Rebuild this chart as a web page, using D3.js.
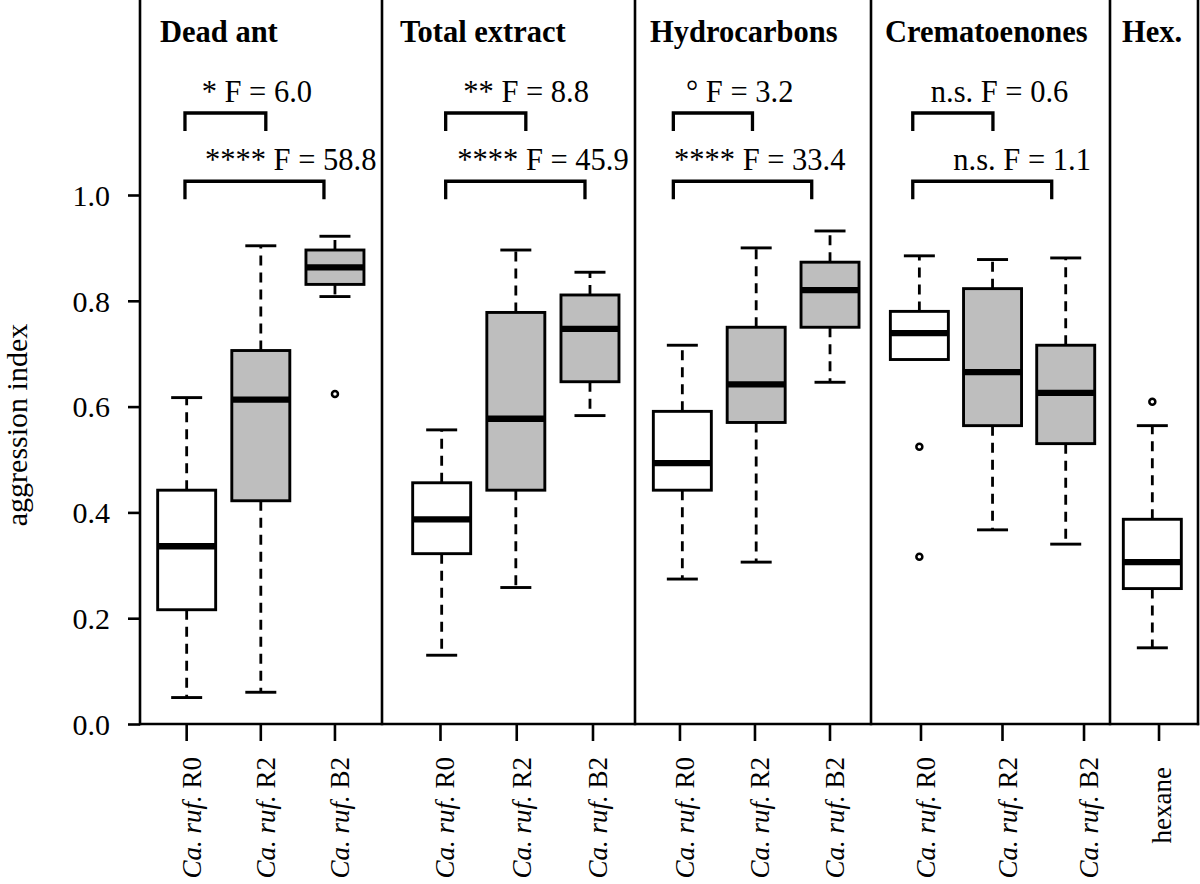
<!DOCTYPE html>
<html><head><meta charset="utf-8">
<script src="https://cdnjs.cloudflare.com/ajax/libs/d3/7.8.5/d3.min.js"></script>
<style>
body{margin:0;background:#fff}
svg{display:block}
text{font-family:"Liberation Serif","Times New Roman",Times,serif;fill:#000}
</style>
</head><body>
<svg id="chart" width="1200" height="884"></svg>
<script>
// ---------------- DATA ----------------
const panelTitles = ["Dead ant", "Total extract", "Hydrocarbons", "Crematoenones", "Hex."];
const boxPanel    = [0, 0, 0, 1, 1, 1, 2, 2, 2, 3, 3, 3, 4];
const boxGroup    = ["R0", "R2", "B2", "R0", "R2", "B2", "R0", "R2", "B2", "R0", "R2", "B2", "hexane"];
const whiskerLow  = [0.050, 0.060, 0.808, 0.130, 0.258, 0.583, 0.274, 0.306, 0.646, 0.689, 0.367, 0.340, 0.144];
const quart1      = [0.216, 0.422, 0.831, 0.322, 0.442, 0.647, 0.442, 0.570, 0.750, 0.689, 0.564, 0.530, 0.256];
const medians     = [0.336, 0.613, 0.863, 0.387, 0.577, 0.747, 0.493, 0.642, 0.820, 0.739, 0.665, 0.626, 0.306];
const quart3      = [0.442, 0.706, 0.896, 0.456, 0.778, 0.811, 0.591, 0.750, 0.873, 0.780, 0.823, 0.716, 0.387];
const whiskerHigh = [0.617, 0.904, 0.922, 0.556, 0.896, 0.854, 0.716, 0.900, 0.932, 0.885, 0.878, 0.881, 0.564];
const outliers    = [[], [], [0.624], [], [], [], [], [], [], [0.524, 0.316], [], [], [0.609]];
const yTicks      = [0, 0.2, 0.4, 0.6, 0.8, 1.0];

const compPanel  = [0, 0, 1, 1, 2, 2, 3, 3];
const compFrom   = ["R0", "R0", "R0", "R0", "R0", "R0", "R0", "R0"];
const compTo     = ["R2", "B2", "R2", "B2", "R2", "B2", "R2", "B2"];
const compSignif = ["*", "****", "**", "****", "\u00B0", "****", "n.s.", "n.s."];
const compF      = ["6.0", "58.8", "8.8", "45.9", "3.2", "33.4", "0.6", "1.1"];

// ---------------- LAYOUT / STYLE ----------------
const panelEdges = [140, 382, 635, 871, 1110, 1198];
const boxPad   = [0.632, 0.706, 0.598, 0.633, 1];
const boxAlign = [0.498, 0.570, 0.536, 0.522, 0.481];
const tickPad   = [0.632, 0.659, 0.573, 0.466, 1];
const tickAlign = [0.498, 0.582, 0.523, 0.658, 0.557];
const titleDx = [20, 18, 15, 14, 12];
const bracketAdj = [[-1.7, 5], [-1.7, -11], [4, 10], [4, -5], [-9, -3.7], [-9, -18.3], [-6.6, 0.4], [-6.6, -14]];
const textDx = [16.7, 20, 17.6, 11.6, 12.7, 0.7, 18, 40.6];
const levelValue = {R2: 1.155, B2: 1.026};
const boxW = 58, capW = 31, legLen = 18;

const svg = d3.select("#chart");
const y = d3.scaleLinear().domain([0, 1]).range([724, 195]);
const fill = d3.scaleOrdinal().domain(["R0", "R2", "B2", "hexane"])
  .range(["#ffffff", "#bebebe", "#bebebe", "#ffffff"]);

const groupsOf = i => boxGroup.filter((g, k) => boxPanel[k] === i);
const boxX = panelTitles.map((t, i) => d3.scalePoint().domain(groupsOf(i))
  .range([panelEdges[i], panelEdges[i + 1]]).padding(boxPad[i]).align(boxAlign[i]));
const tickX = panelTitles.map((t, i) => d3.scalePoint().domain(groupsOf(i))
  .range([panelEdges[i], panelEdges[i + 1]]).padding(tickPad[i]).align(tickAlign[i]));

const y0 = y(0);

// panel frame lines
svg.append("g").selectAll("line").data(panelEdges).join("line")
  .attr("x1", d => d).attr("x2", d => d).attr("y1", 0).attr("y2", y0 + 1.2)
  .attr("stroke", "#000").attr("stroke-width", 2.6);
svg.append("line").attr("x1", panelEdges[0]).attr("x2", panelEdges[panelEdges.length - 1] + 1.2)
  .attr("y1", y0).attr("y2", y0).attr("stroke", "#000").attr("stroke-width", 2.6);

// y axis
const yAxis = svg.append("g").attr("transform", `translate(${panelEdges[0]},0)`)
  .call(d3.axisLeft(y).tickValues(yTicks).tickFormat(d3.format(".1f"))
    .tickSize(12).tickSizeOuter(0).tickPadding(18));
yAxis.select(".domain").remove();
yAxis.selectAll(".tick line").attr("stroke", "#000").attr("stroke-width", 2.6);
yAxis.selectAll(".tick text").attr("font-size", 30).attr("font-family", null)
  .attr("dy", "0.34em").style("font-family", '"Liberation Serif","Times New Roman",serif');

svg.append("text").attr("transform", "translate(27,425) rotate(-90)")
  .attr("text-anchor", "middle").attr("font-size", 30).text("aggression index");

// panel titles
svg.append("g").selectAll("text").data(panelTitles).join("text")
  .attr("x", (d, i) => panelEdges[i] + titleDx[i]).attr("y", 42)
  .attr("font-size", 30.5).attr("font-weight", "bold").text(d => d);

// x ticks + labels
boxGroup.forEach((g, k) => {
  const p = boxPanel[k];
  const tx = tickX[p](g);
  svg.append("line").attr("x1", tx).attr("x2", tx).attr("y1", y0).attr("y2", y0 + 17)
    .attr("stroke", "#000").attr("stroke-width", 2.6);
  const isHex = g === "hexane";
  const t = svg.append("text")
    .attr("transform", `translate(${tx},${isHex ? 767 : 757}) rotate(-90)`)
    .attr("text-anchor", "end").attr("dy", isHex ? 12 : 14).attr("font-size", 27);
  if (isHex) t.text(g);
  else {
    t.append("tspan").attr("font-style", "italic").text("Ca. ruf.");
    t.append("tspan").text(" " + g);
  }
});

// boxes
const boxes = svg.append("g");
boxGroup.forEach((g, k) => {
  const p = boxPanel[k];
  const cx = boxX[p](g);
  const gb = boxes.append("g");
  [[quart3[k], whiskerHigh[k]], [quart1[k], whiskerLow[k]]].forEach(([a, b]) => {
    if (Math.abs(a - b) < 1e-9) return;
    gb.append("line").attr("x1", cx).attr("x2", cx).attr("y1", y(a)).attr("y2", y(b))
      .attr("stroke", "#000").attr("stroke-width", 2.8).attr("stroke-dasharray", "10,7");
    gb.append("line").attr("x1", cx - capW / 2).attr("x2", cx + capW / 2)
      .attr("y1", y(b)).attr("y2", y(b)).attr("stroke", "#000").attr("stroke-width", 2.9);
  });
  gb.append("rect").attr("x", cx - boxW / 2).attr("width", boxW)
    .attr("y", y(quart3[k])).attr("height", y(quart1[k]) - y(quart3[k]))
    .attr("fill", fill(g)).attr("stroke", "#000").attr("stroke-width", 2.9);
  gb.append("line").attr("x1", cx - boxW / 2).attr("x2", cx + boxW / 2)
    .attr("y1", y(medians[k])).attr("y2", y(medians[k]))
    .attr("stroke", "#000").attr("stroke-width", 6.3);
  gb.selectAll("circle").data(outliers[k]).join("circle")
    .attr("cx", cx).attr("cy", d => y(d)).attr("r", 3)
    .attr("fill", "none").attr("stroke", "#000").attr("stroke-width", 2.5);
});

// comparison brackets
const ann = svg.append("g");
compPanel.forEach((p, k) => {
  const x1 = boxX[p](compFrom[k]) + bracketAdj[k][0];
  const x2 = boxX[p](compTo[k]) + bracketAdj[k][1];
  const yb = y(levelValue[compTo[k]]);
  ann.append("path")
    .attr("d", `M${x1},${yb + legLen}V${yb}H${x2}V${yb + legLen}`)
    .attr("fill", "none").attr("stroke", "#000").attr("stroke-width", 3.3);
  ann.append("text").attr("x", x1 + textDx[k]).attr("y", yb - 11.5)
    .attr("font-size", 30.5).text(`${compSignif[k]} F = ${compF[k]}`);
});
</script>
</body></html>
